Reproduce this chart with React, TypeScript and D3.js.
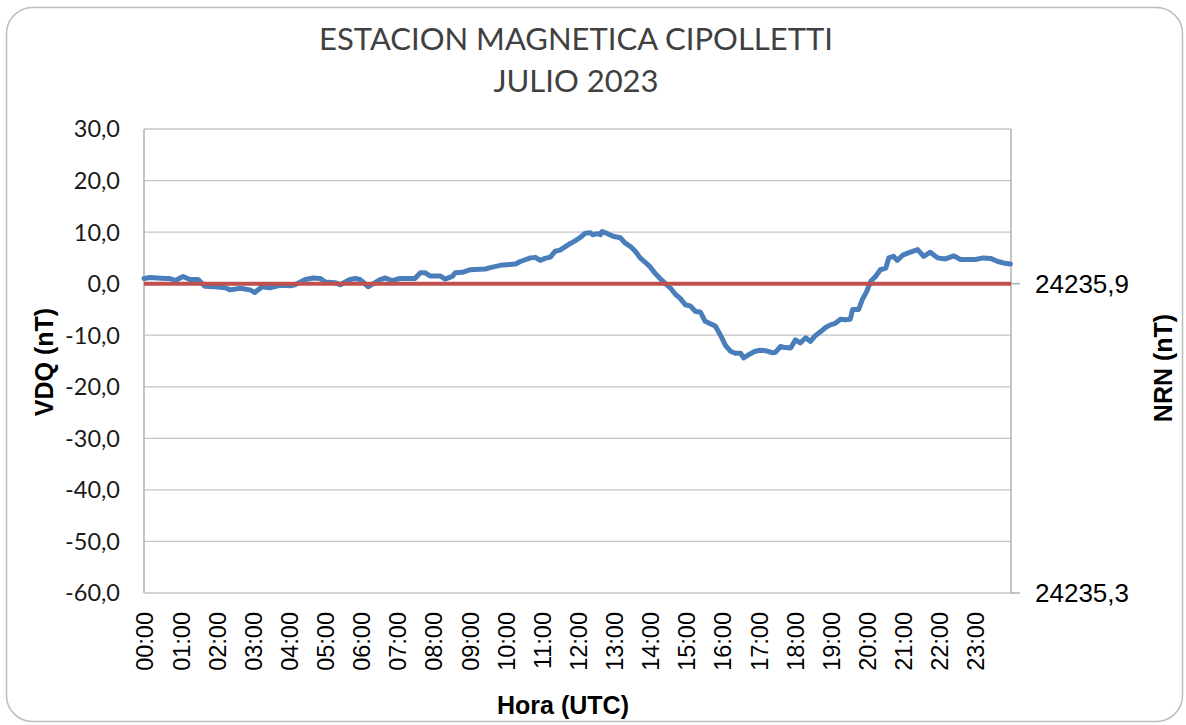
import React, { useEffect, useRef } from 'react';
import * as d3 from 'd3';

// minutos desde 00:00 UTC
const minutos = [
  0, 10, 35, 43, 52, 65, 76, 90, 101, 118, 135, 143, 160, 176, 184, 196, 209, 226, 243, 251,
  268, 281, 293, 301, 317, 326, 342, 351, 359, 367, 372, 384, 392, 401, 412, 425, 442, 450, 459, 467,
  475, 492, 500, 512, 517, 529, 542, 558, 567, 575, 592, 608, 617, 625, 642, 650, 658, 666, 675, 683,
  691, 700, 708, 716, 725, 733, 741, 745, 753, 758, 761, 770, 779, 791, 799, 808, 816, 824, 833, 841,
  849, 858, 866, 874, 883, 891, 899, 907, 916, 924, 932, 941, 949, 957, 966, 974, 982, 991, 996, 1004,
  1015, 1024, 1032, 1044, 1049, 1057, 1065, 1074, 1082, 1090, 1099, 1107, 1115, 1124, 1132, 1140, 1148, 1157, 1165, 1173,
  1177, 1187, 1193, 1200, 1207, 1215, 1223, 1232, 1237, 1245, 1251, 1261, 1273, 1285, 1295, 1306, 1318, 1331, 1345, 1356,
  1368, 1381, 1394, 1406, 1418, 1428, 1439,
];

// VDQ (nT)
const vdq = [
  1.0, 1.2, 1.0, 1.0, 0.6, 1.4, 0.8, 0.8, -0.5, -0.6, -0.8, -1.2, -0.9, -1.2, -1.7, -0.6, -0.8, -0.3, -0.4, -0.2,
  0.8, 1.1, 1.0, 0.3, 0.2, -0.2, 0.8, 1.0, 0.8, 0.0, -0.6, 0.2, 0.8, 1.1, 0.6, 1.0, 1.0, 1.0, 2.1, 2.1,
  1.5, 1.5, 0.9, 1.4, 2.1, 2.2, 2.7, 2.8, 2.85, 3.1, 3.55, 3.7, 3.8, 4.3, 5.0, 5.1, 4.5, 4.9, 5.15, 6.3,
  6.5, 7.2, 7.8, 8.3, 9.0, 9.8, 9.9, 9.5, 9.7, 9.5, 10.1, 9.7, 9.2, 8.9, 7.9, 7.2, 6.3, 5.0, 4.1, 3.2,
  2.0, 0.9, 0.0, -0.8, -2.1, -2.9, -4.1, -4.3, -5.4, -5.5, -7.3, -7.8, -8.2, -9.9, -12.0, -13.1, -13.5, -13.5, -14.4, -13.8,
  -13.1, -12.9, -13.0, -13.4, -13.3, -12.2, -12.4, -12.5, -10.9, -11.5, -10.5, -11.2, -10.1, -9.3, -8.5, -8.0, -7.7, -6.9, -7.0, -6.9,
  -5.0, -5.0, -3.1, -1.6, 0.45, 1.4, 2.7, 3.0, 5.0, 5.3, 4.5, 5.6, 6.1, 6.6, 5.3, 6.1, 5.0, 4.8, 5.4, 4.7,
  4.7, 4.7, 5.0, 4.9, 4.3, 4.0, 3.8,
];

// NRN (nT), valor constante del día
const nrn = 24235.9;

const yTicks = [30, 20, 10, 0, -10, -20, -30, -40, -50, -60];
const yTicksDer = [24235.9, 24235.3];
const horas = d3.range(0, 24);

const W = 1186;
const H = 725;

const App = () => {
  const svgRef = useRef<SVGSVGElement | null>(null);

  useEffect(() => {
    const svg = d3.select(svgRef.current);
    svg.selectAll('*').remove();

    const left = 144, right = 1011, top = 129, bottom = 593;

    const x = d3.scaleLinear().domain([0, 1440]).range([left, right]);
    const y = d3.scaleLinear().domain([-60, 30]).range([bottom, top]);
    const y2 = d3.scaleLinear().domain([24235.3, 24236.2]).range([bottom, top]);

    // marco
    svg.append('rect')
      .attr('x', 6.5).attr('y', 7.5)
      .attr('width', 1176).attr('height', 714)
      .attr('rx', 26)
      .attr('fill', '#fff')
      .attr('stroke', '#bdbdbd')
      .attr('stroke-width', 1.5);

    // título
    const titulo = svg.append('text')
      .attr('text-anchor', 'middle')
      .attr('font-family', 'Lato, "Open Sans", sans-serif')
      .attr('font-size', 31)
      .attr('fill', '#404040');
    titulo.append('tspan').attr('x', 576).attr('y', 50).text('ESTACION MAGNETICA CIPOLLETTI');
    titulo.append('tspan').attr('x', 576).attr('y', 92).text('JULIO 2023');

    // grilla
    svg.append('g')
      .selectAll('line')
      .data(yTicks)
      .enter()
      .append('line')
      .attr('x1', left).attr('x2', right)
      .attr('y1', d => y(d)).attr('y2', d => y(d))
      .attr('stroke', '#c4c4c4')
      .attr('stroke-width', 1.3);

    // ejes
    svg.append('line')
      .attr('x1', left).attr('x2', left).attr('y1', top).attr('y2', bottom)
      .attr('stroke', '#b0b0b0').attr('stroke-width', 1.5);
    svg.append('line')
      .attr('x1', right).attr('x2', right).attr('y1', top).attr('y2', bottom)
      .attr('stroke', '#b0b0b0').attr('stroke-width', 1.5);

    // eje izquierdo
    svg.append('g')
      .selectAll('text')
      .data(yTicks)
      .enter()
      .append('text')
      .attr('x', 120)
      .attr('y', d => y(d))
      .attr('dy', '0.36em')
      .attr('text-anchor', 'end')
      .attr('font-family', 'Lato, "Open Sans", sans-serif')
      .attr('font-size', 23.5)
      .attr('fill', '#1a1a1a')
      .text(d => d3.format('.1f')(d).replace('.', ',').replace('−', '-'));

    // eje derecho
    const der = svg.append('g');
    der.selectAll('line')
      .data(yTicksDer)
      .enter()
      .append('line')
      .attr('x1', right).attr('x2', right + 9)
      .attr('y1', d => y2(d)).attr('y2', d => y2(d))
      .attr('stroke', '#b0b0b0').attr('stroke-width', 1.5);
    der.selectAll('text')
      .data(yTicksDer)
      .enter()
      .append('text')
      .attr('x', 1035)
      .attr('y', d => y2(d))
      .attr('dy', '0.36em')
      .attr('font-family', '"Liberation Sans", Arial, sans-serif')
      .attr('font-size', 26)
      .attr('fill', '#000')
      .text(d => d3.format('.1f')(d).replace('.', ','));

    // eje x
    svg.append('g')
      .selectAll('text')
      .data(horas)
      .enter()
      .append('text')
      .attr('transform', d => `translate(${x(d * 60) + 1},612) rotate(-90)`)
      .attr('dy', '0.36em')
      .attr('text-anchor', 'end')
      .attr('font-family', '"Liberation Sans", Arial, sans-serif')
      .attr('font-size', 23.5)
      .attr('fill', '#000')
      .text(d => `${String(d).padStart(2, '0')}:00`);

    // títulos de ejes
    svg.append('text')
      .attr('x', 563).attr('y', 714)
      .attr('text-anchor', 'middle')
      .attr('font-family', '"Liberation Sans", Arial, sans-serif')
      .attr('font-weight', 'bold')
      .attr('font-size', 25)
      .text('Hora (UTC)');
    svg.append('text')
      .attr('transform', 'translate(53,362) rotate(-90)')
      .attr('text-anchor', 'middle')
      .attr('font-family', '"Liberation Sans", Arial, sans-serif')
      .attr('font-weight', 'bold')
      .attr('font-size', 25)
      .text('VDQ (nT)');
    svg.append('text')
      .attr('transform', 'translate(1172,368) rotate(-90)')
      .attr('text-anchor', 'middle')
      .attr('font-family', '"Liberation Sans", Arial, sans-serif')
      .attr('font-weight', 'bold')
      .attr('font-size', 25)
      .text('NRN (nT)');

    // serie VDQ
    const linea = d3.line<number>()
      .x((_, i) => x(minutos[i]))
      .y(d => y(d));
    svg.append('path')
      .datum(vdq)
      .attr('d', linea)
      .attr('fill', 'none')
      .attr('stroke', '#4a7ebb')
      .attr('stroke-width', 5)
      .attr('stroke-linejoin', 'round')
      .attr('stroke-linecap', 'round');

    // serie NRN
    svg.append('line')
      .attr('x1', x(0)).attr('x2', x(1440))
      .attr('y1', y2(nrn)).attr('y2', y2(nrn))
      .attr('stroke', '#c0504d')
      .attr('stroke-width', 4);
  }, []);

  return (
    <svg
      ref={svgRef}
      width={W}
      height={H}
      style={{ position: 'absolute', left: 0, top: 0, background: '#fff' }}
    />
  );
};

export default App;
